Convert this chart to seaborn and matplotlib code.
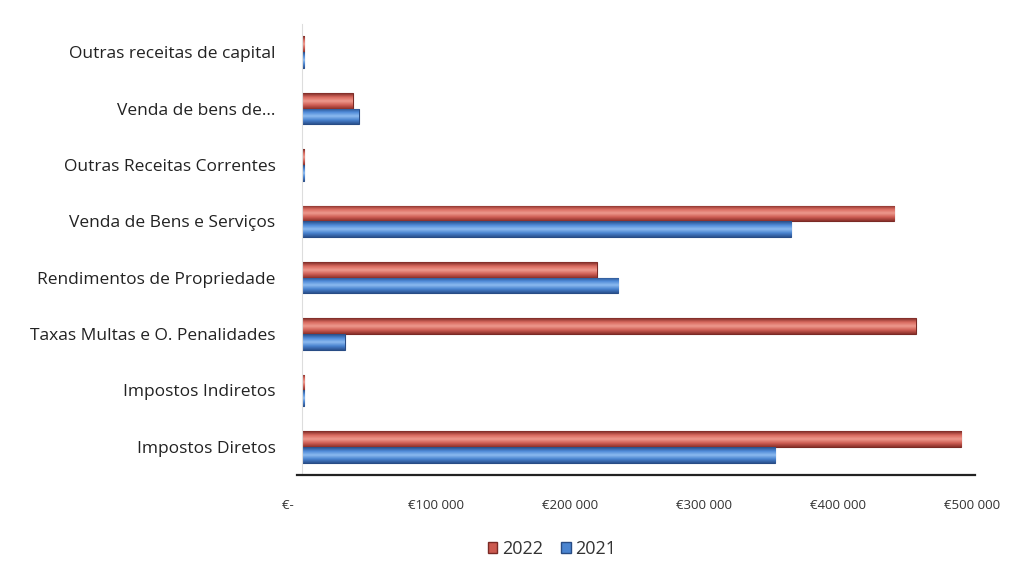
import numpy as np
import pandas as pd
import matplotlib
matplotlib.use("Agg")
import matplotlib.pyplot as plt
import seaborn as sns
from matplotlib.colors import LinearSegmentedColormap
from matplotlib.patches import Patch

categories = [
    "Outras receitas de capital",
    "Venda de bens de...",
    "Outras Receitas Correntes",
    "Venda de Bens e Serviços",
    "Rendimentos de Propriedade",
    "Taxas Multas e O. Penalidades",
    "Impostos Indiretos",
    "Impostos Diretos",
]
values_2022 = [1500, 38000, 1500, 442000, 220000, 458000, 1500, 492000]
values_2021 = [1500, 42500, 1500, 365000, 236000, 32000, 1500, 353000]
years = ["2022", "2021"]
tick_values = [0, 100000, 200000, 300000, 400000, 500000]
tick_labels = ["€-        ", "€100 000", "€200 000", "€300 000", "€400 000", "€500 000"]

df = pd.DataFrame({
    "Categoria": categories * 2,
    "Valor": values_2022 + values_2021,
    "Ano": [years[0]] * len(categories) + [years[1]] * len(categories),
})

palette = {"2022": "#CC5A50", "2021": "#4A84D0"}
shades = {
    "2022": ["#7A2A25", "#D8695E", "#EE9A8E", "#D05F55", "#8A302A"],
    "2021": ["#284C85", "#4E8AD8", "#8DBBF0", "#4A84D0", "#2A5290"],
}

sns.set_theme(style="white")
plt.rcParams["font.family"] = ["Open Sans", "DejaVu Sans"]

fig = plt.figure(figsize=(10.14, 5.67), dpi=100)
ax = fig.add_axes([302 / 1014, 1 - 475 / 567, 670 / 1014, 451 / 567])

sns.barplot(data=df, y="Categoria", x="Valor", hue="Ano", hue_order=years,
            order=categories, palette=palette, orient="h", width=0.56,
            edgecolor="#5A2020", linewidth=0.8, legend=False, ax=ax)

yl = ax.get_ylim()
# cylinder-like shading across each bar's thickness
for container, yr in zip(ax.containers, years):
    cmap = LinearSegmentedColormap.from_list("c" + yr, shades[yr])
    edge = shades[yr][0]
    for patch in container.patches:
        patch.set_edgecolor(edge)
        x0, y0 = patch.get_x(), patch.get_y()
        w, h = patch.get_width(), patch.get_height()
        grad = np.linspace(0, 1, 64).reshape(-1, 1)
        im = ax.imshow(grad, cmap=cmap, aspect="auto",
                       extent=[x0, x0 + w, y0 + h, y0], zorder=patch.get_zorder() + 0.1,
                       interpolation="bilinear")
        im.set_clip_path(patch)
ax.set_xlim(0, 500000)
ax.set_ylim(yl)

ax.set_xticks(tick_values)
ax.set_xticklabels(tick_labels, fontsize=9.5, color="#333333")
ax.tick_params(axis="x", length=0, pad=17)
ax.tick_params(axis="y", length=0, pad=19, labelsize=12.5, labelcolor="#222222")
ax.set_xlabel("")
ax.set_ylabel("")
for s in ["top", "right"]:
    ax.spines[s].set_visible(False)
ax.spines["left"].set_color("#dddddd")
ax.spines["left"].set_linewidth(0.8)
ax.spines["bottom"].set_color("#222222")
ax.spines["bottom"].set_linewidth(1.6)
ax.spines["bottom"].set_bounds(-4000, 502000)

handles = [Patch(facecolor=palette[y], edgecolor=shades[y][0], label=y) for y in years]
fig.legend(handles=handles, loc="center", bbox_to_anchor=(552 / 1014, 1 - 549 / 567),
           ncol=2, frameon=False, fontsize=13, handlelength=0.55, handleheight=0.55,
           handletextpad=0.25, columnspacing=1.0, labelcolor="#333333")

fig.savefig("out.png", dpi=100)
